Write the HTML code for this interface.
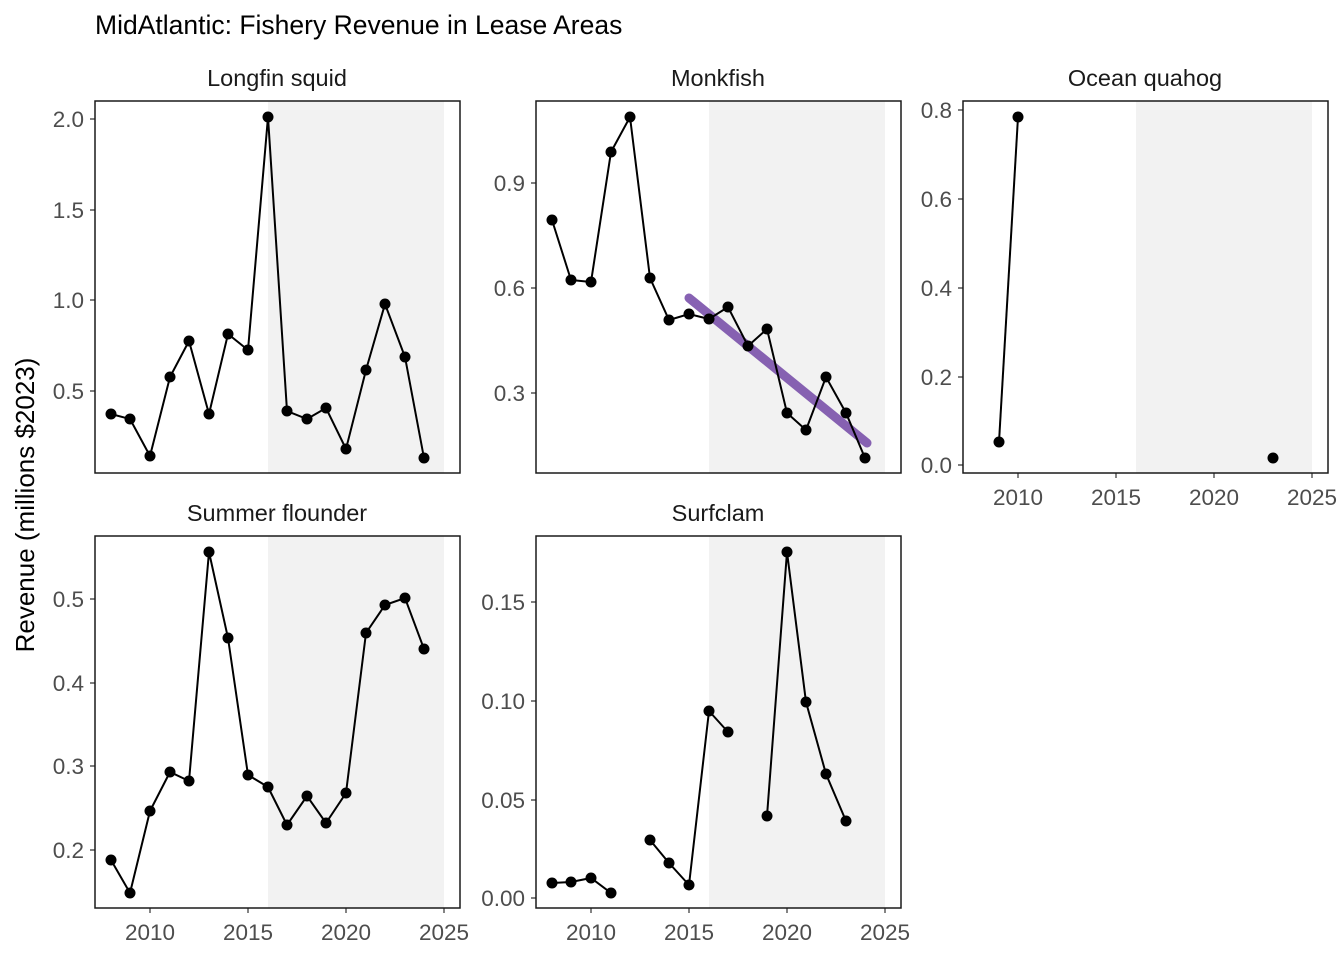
<!DOCTYPE html>
<html><head><meta charset="utf-8"><style>html,body{margin:0;padding:0;background:#fff}svg{display:block}text{font-family:"Liberation Sans",sans-serif}</style></head><body>
<svg width="1344" height="960" viewBox="0 0 1344 960" xmlns="http://www.w3.org/2000/svg">
<rect width="1344" height="960" fill="#fff"/>
<text x="95" y="34" font-size="26.5" fill="#000">MidAtlantic: Fishery Revenue in Lease Areas</text>
<text transform="translate(34,505) rotate(-90)" font-size="26" text-anchor="middle" fill="#000">Revenue (millions $2023)</text>

<rect x="268" y="101" width="176" height="372" fill="#f2f2f2"/>
<rect x="709" y="101" width="176" height="372" fill="#f2f2f2"/>
<rect x="1136" y="101" width="176" height="372" fill="#f2f2f2"/>
<rect x="268" y="536" width="176" height="372" fill="#f2f2f2"/>
<rect x="709" y="536" width="176" height="372" fill="#f2f2f2"/>

<g font-size="23.5" text-anchor="middle" fill="#1a1a1a">
<text x="277" y="86">Longfin squid</text>
<text x="718" y="86">Monkfish</text>
<text x="1145" y="86">Ocean quahog</text>
<text x="277" y="521">Summer flounder</text>
<text x="718" y="521">Surfclam</text>
</g>

<g stroke="#333" stroke-width="1.2">
<path d="M90 119h5M90 210h5M90 300h5M90 391h5"/>
<path d="M531 183h5M531 288h5M531 393h5"/>
<path d="M958 110h5M958 199h5M958 288h5M958 377h5M958 465h5"/>
<path d="M90 599h5M90 683h5M90 766h5M90 850h5"/>
<path d="M531 602h5M531 701h5M531 800h5M531 898h5"/>
<path d="M150 908v5M248 908v5M346 908v5M444 908v5"/>
<path d="M591 908v5M689 908v5M787 908v5M885 908v5"/>
<path d="M1018 473v5M1116 473v5M1214 473v5M1312 473v5"/>
</g>
<g font-size="22.5" fill="#4d4d4d" text-anchor="end">
<text x="84" y="127">2.0</text><text x="84" y="218">1.5</text><text x="84" y="308">1.0</text><text x="84" y="399">0.5</text>
<text x="525" y="191">0.9</text><text x="525" y="296">0.6</text><text x="525" y="401">0.3</text>
<text x="952" y="118">0.8</text><text x="952" y="207">0.6</text><text x="952" y="296">0.4</text><text x="952" y="385">0.2</text><text x="952" y="473">0.0</text>
<text x="84" y="607">0.5</text><text x="84" y="691">0.4</text><text x="84" y="774">0.3</text><text x="84" y="858">0.2</text>
<text x="525" y="610">0.15</text><text x="525" y="709">0.10</text><text x="525" y="808">0.05</text><text x="525" y="906">0.00</text>
</g>
<g font-size="22.5" fill="#4d4d4d" text-anchor="middle">
<text x="150" y="940">2010</text><text x="248" y="940">2015</text><text x="346" y="940">2020</text><text x="444" y="940">2025</text>
<text x="591" y="940">2010</text><text x="689" y="940">2015</text><text x="787" y="940">2020</text><text x="885" y="940">2025</text>
<text x="1018" y="505">2010</text><text x="1116" y="505">2015</text><text x="1214" y="505">2020</text><text x="1312" y="505">2025</text>
</g>

<line x1="689" y1="298" x2="867" y2="443" stroke="#7b52ab" stroke-width="9" stroke-linecap="round" opacity="0.9"/>

<g fill="none" stroke="#000" stroke-width="2">
<polyline points="111,414 130,419 150,456 170,377 189,341 209,414 228,334 248,350 268,117 287,411 307,419 326,408 346,449 366,370 385,304 405,357 424,458"/>
<polyline points="552,220 571,280 591,282 611,152 630,117 650,278 669,320 689,314 709,319 728,307 748,346 767,329 787,413 806,430 826,377 846,413 865,458"/>
<polyline points="999,442 1018,117"/>
<polyline points="111,860 130,893 150,811 170,772 189,781 209,552 228,638 248,775 268,787 287,825 307,796 326,823 346,793 366,633 385,605 405,598 424,649"/>
<polyline points="552,883 571,882 591,878 611,893"/>
<polyline points="650,840 669,863 689,885 709,711 728,732"/>
<polyline points="767,816 787,552 806,702 826,774 846,821"/>
</g>
<g fill="#000">
<circle cx="111" cy="414" r="5.5"/><circle cx="130" cy="419" r="5.5"/><circle cx="150" cy="456" r="5.5"/><circle cx="170" cy="377" r="5.5"/><circle cx="189" cy="341" r="5.5"/><circle cx="209" cy="414" r="5.5"/><circle cx="228" cy="334" r="5.5"/><circle cx="248" cy="350" r="5.5"/><circle cx="268" cy="117" r="5.5"/><circle cx="287" cy="411" r="5.5"/><circle cx="307" cy="419" r="5.5"/><circle cx="326" cy="408" r="5.5"/><circle cx="346" cy="449" r="5.5"/><circle cx="366" cy="370" r="5.5"/><circle cx="385" cy="304" r="5.5"/><circle cx="405" cy="357" r="5.5"/><circle cx="424" cy="458" r="5.5"/>
<circle cx="552" cy="220" r="5.5"/><circle cx="571" cy="280" r="5.5"/><circle cx="591" cy="282" r="5.5"/><circle cx="611" cy="152" r="5.5"/><circle cx="630" cy="117" r="5.5"/><circle cx="650" cy="278" r="5.5"/><circle cx="669" cy="320" r="5.5"/><circle cx="689" cy="314" r="5.5"/><circle cx="709" cy="319" r="5.5"/><circle cx="728" cy="307" r="5.5"/><circle cx="748" cy="346" r="5.5"/><circle cx="767" cy="329" r="5.5"/><circle cx="787" cy="413" r="5.5"/><circle cx="806" cy="430" r="5.5"/><circle cx="826" cy="377" r="5.5"/><circle cx="846" cy="413" r="5.5"/><circle cx="865" cy="458" r="5.5"/>
<circle cx="999" cy="442" r="5.5"/><circle cx="1018" cy="117" r="5.5"/><circle cx="1273" cy="458" r="5.5"/>
<circle cx="111" cy="860" r="5.5"/><circle cx="130" cy="893" r="5.5"/><circle cx="150" cy="811" r="5.5"/><circle cx="170" cy="772" r="5.5"/><circle cx="189" cy="781" r="5.5"/><circle cx="209" cy="552" r="5.5"/><circle cx="228" cy="638" r="5.5"/><circle cx="248" cy="775" r="5.5"/><circle cx="268" cy="787" r="5.5"/><circle cx="287" cy="825" r="5.5"/><circle cx="307" cy="796" r="5.5"/><circle cx="326" cy="823" r="5.5"/><circle cx="346" cy="793" r="5.5"/><circle cx="366" cy="633" r="5.5"/><circle cx="385" cy="605" r="5.5"/><circle cx="405" cy="598" r="5.5"/><circle cx="424" cy="649" r="5.5"/>
<circle cx="552" cy="883" r="5.5"/><circle cx="571" cy="882" r="5.5"/><circle cx="591" cy="878" r="5.5"/><circle cx="611" cy="893" r="5.5"/><circle cx="650" cy="840" r="5.5"/><circle cx="669" cy="863" r="5.5"/><circle cx="689" cy="885" r="5.5"/><circle cx="709" cy="711" r="5.5"/><circle cx="728" cy="732" r="5.5"/><circle cx="767" cy="816" r="5.5"/><circle cx="787" cy="552" r="5.5"/><circle cx="806" cy="702" r="5.5"/><circle cx="826" cy="774" r="5.5"/><circle cx="846" cy="821" r="5.5"/>
</g>

<g fill="none" stroke="#1a1a1a" stroke-width="1.5">
<rect x="95" y="101" width="365" height="372"/>
<rect x="536" y="101" width="365" height="372"/>
<rect x="963" y="101" width="365" height="372"/>
<rect x="95" y="536" width="365" height="372"/>
<rect x="536" y="536" width="365" height="372"/>
</g>
</svg>
</body></html>
